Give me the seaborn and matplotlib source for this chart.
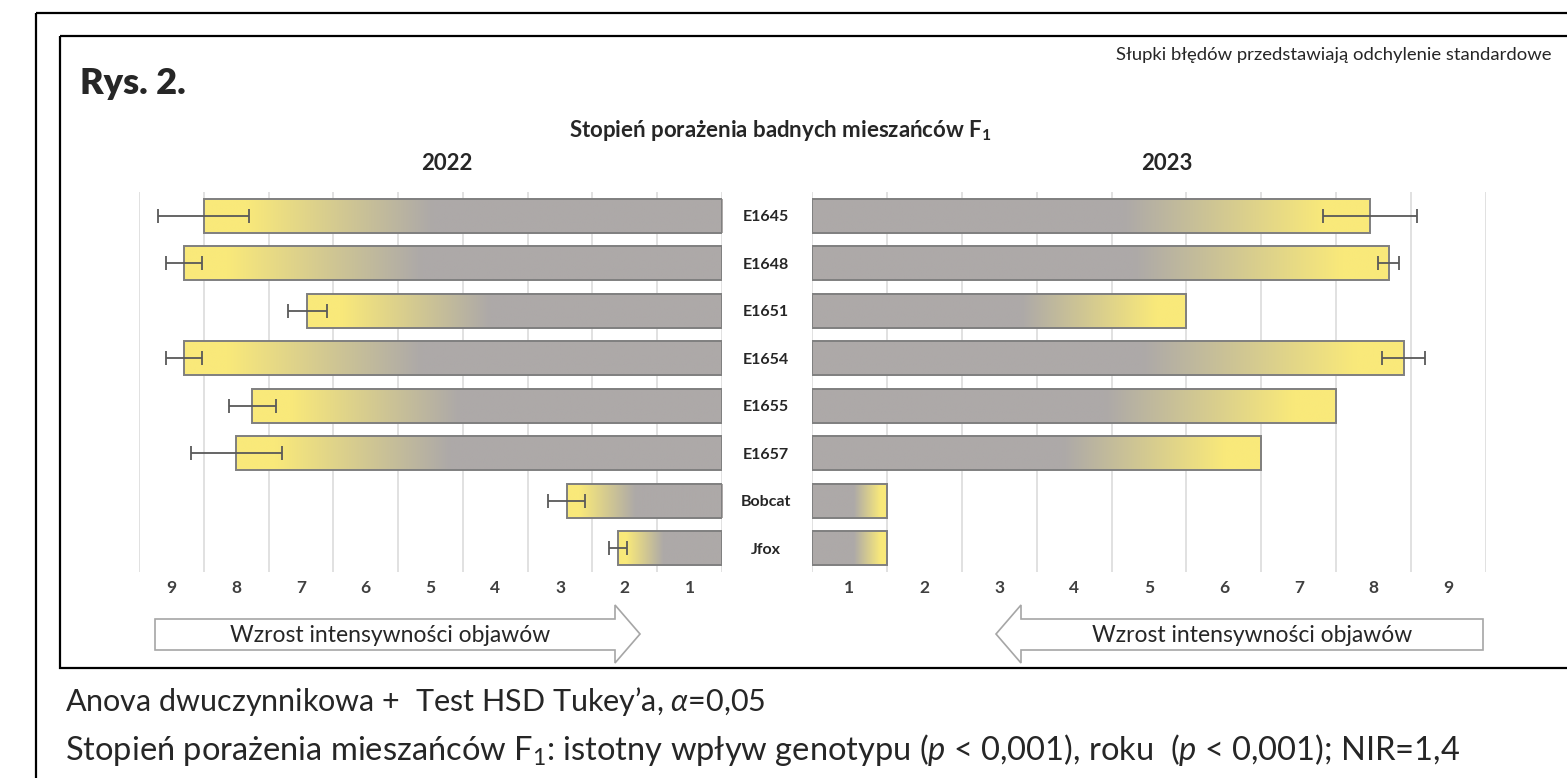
import numpy as np
import matplotlib
matplotlib.use("Agg")
import matplotlib.pyplot as plt
import seaborn as sns
from matplotlib.patches import Polygon, Rectangle
from matplotlib.colors import to_rgb

# ---------------- data ----------------
genotypes = ["E1645", "E1648", "E1651", "E1654", "E1655", "E1657", "Bobcat", "Jfox"]
score_2022 = [8.0, 8.3, 6.4, 8.3, 7.25, 7.5, 2.4, 1.6]
sd_2022 = [0.70, 0.28, 0.30, 0.28, 0.36, 0.70, 0.28, 0.14]
score_2023 = [7.45, 7.7, 5.0, 7.9, 7.0, 6.0, 1.0, 1.0]
sd_2023 = [0.63, 0.14, 0.0, 0.29, 0.0, 0.0, 0.0, 0.0]
scale_labels = ["1", "2", "3", "4", "5", "6", "7", "8", "9"]
years = ["2022", "2023"]

# ---------------- style ----------------
sns.set_theme(style="white")
plt.rcParams["font.family"] = ["Lato", "DejaVu Sans"]
plt.rcParams["mathtext.fontset"] = "custom"
plt.rcParams["mathtext.rm"] = "Lato"
plt.rcParams["mathtext.it"] = "Lato:italic"
plt.rcParams["mathtext.bf"] = "Lato:bold"

YELLOW = to_rgb("#F9E97A")
GREY = to_rgb("#ADA9A8")
EDGE = "#7F7F7F"
GRID = "#D9D9D9"
ERR = "#595959"

W, H = 1567, 778
fig = plt.figure(figsize=(W / 100, H / 100), dpi=100)


def px_axes(x0, y0, x1, y1):
    return fig.add_axes([x0 / W, 1 - y1 / H, (x1 - x0) / W, (y1 - y0) / H])


# overlay for frames, arrows and annotations (pixel coordinates)
ov = fig.add_axes([0, 0, 1, 1])
ov.set_xlim(0, W)
ov.set_ylim(H, 0)
ov.axis("off")
ov.patch.set_alpha(0)

ax1 = px_axes(139, 192, 722, 572)
ax2 = px_axes(812, 192, 1486, 572)


def gradient_image(n=256):
    f = np.linspace(0, 1, n)
    t = np.clip((f - 0.56) / (0.92 - 0.56), 0, 1)
    cols = np.array(GREY)[None, :] * (1 - t[:, None]) + np.array(YELLOW)[None, :] * t[:, None]
    return cols[None, :, :]


def draw_panel(ax, values, sds, invert):
    sns.barplot(x=values, y=genotypes, orient="h", ax=ax, width=0.71,
                color=GREY, edgecolor=EDGE, linewidth=1.4, zorder=3)
    img = gradient_image()
    for p in list(ax.patches):
        x0, w = p.get_x(), p.get_width()
        y0, h = p.get_y(), p.get_height()
        im = ax.imshow(img, extent=[x0, x0 + w, y0 + h, y0], aspect="auto",
                       interpolation="bilinear", zorder=2.5)
        im.set_clip_path(p)
        p.set_facecolor("none")
    ypos = np.arange(len(genotypes))
    sd_arr = np.array(sds)
    mask = sd_arr > 0
    ax.errorbar(np.array(values)[mask], ypos[mask], xerr=sd_arr[mask], fmt="none",
                ecolor=ERR, elinewidth=1.3, capsize=5, capthick=1.3, zorder=4)
    ax.set_xlim((9, 0) if invert else (0, 9))
    ax.set_ylim(len(genotypes) - 0.5, -0.5)
    ax.set_xticks(np.arange(len(scale_labels)) + 0.5)
    ax.set_xticklabels(scale_labels, fontsize=12.5, fontweight="bold", color="#404040")
    ax.set_xticks(np.arange(0, 10), minor=True)
    ax.tick_params(axis="x", which="both", length=0, pad=6)
    ax.grid(False)
    ax.grid(True, axis="x", which="minor", color=GRID, linewidth=1.1, zorder=0)
    ax.set_axisbelow(True)
    for s in ax.spines.values():
        s.set_visible(False)
    ax.set_xlabel("")
    ax.set_ylabel("")


draw_panel(ax1, score_2022, sd_2022, invert=True)
draw_panel(ax2, score_2023, sd_2023, invert=False)
ax1.set_yticks([])
ax2.tick_params(axis="y", length=0, pad=33)
for lab in ax2.get_yticklabels():
    lab.set_ha("center")
    lab.set_fontweight("bold")
    lab.set_fontsize(11.5)
    lab.set_color("#262626")

# ---------------- frames ----------------
ov.plot([36, W + 5], [13, 13], color="black", lw=1.6, solid_capstyle="butt")
ov.plot([36, 36], [13, H + 5], color="black", lw=1.6, solid_capstyle="butt")
ov.add_patch(Rectangle((60, 36), W + 10 - 60, 668 - 36, fill=False, ec="black", lw=1.6))

# ---------------- texts ----------------
ov.text(80, 83, "Rys. 2.", fontsize=26, fontweight="heavy", ha="left", va="center")
ov.text(1552, 55, "Słupki błędów przedstawiają odchylenie standardowe", fontsize=13.3,
        ha="right", va="center")
ov.text(780, 130, r"Stopień porażenia badnych mieszańców F$_\mathbf{1}$", fontsize=16,
        fontweight="bold", ha="center", va="center")
ov.text(447, 163, years[0], fontsize=16, fontweight="bold", ha="center", va="center")
ov.text(1167, 163, years[1], fontsize=16, fontweight="bold", ha="center", va="center")

# arrows
arrow_l = [(155, 619), (615, 619), (615, 605), (640, 634), (615, 663), (615, 650), (155, 650)]
arrow_r = [(1483, 619), (1021, 619), (1021, 605), (996, 634), (1021, 663), (1021, 650), (1483, 650)]
for poly in (arrow_l, arrow_r):
    ov.add_patch(Polygon(poly, closed=True, fc="white", ec="#A6A6A6", lw=1.2))
ov.text(390, 636, "Wzrost intensywności objawów", fontsize=16.5, ha="center", va="center")
ov.text(1252, 636, "Wzrost intensywności objawów", fontsize=16.5, ha="center", va="center")

ov.text(65, 702, r"Anova dwuczynnikowa +  Test HSD Tukey’a, $\alpha$=0,05", fontsize=22,
        ha="left", va="center")
ov.text(65, 750, r"Stopień porażenia mieszańców F$_1$: istotny wpływ genotypu ($p$ < 0,001), "
        r"roku  ($p$ < 0,001); NIR=1,4", fontsize=23.5, ha="left", va="center")

fig.savefig("out.png", dpi=100, facecolor="white")
